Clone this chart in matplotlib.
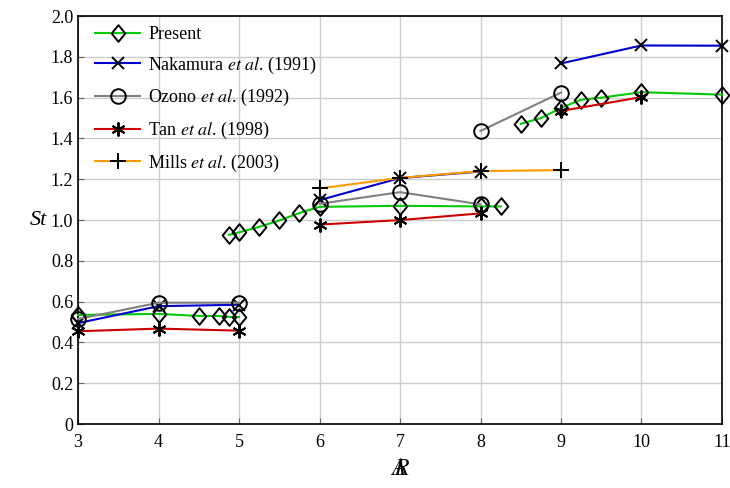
import numpy as np
import matplotlib
matplotlib.use('Agg')
import matplotlib.pyplot as plt
from matplotlib.path import Path

plt.rcParams['font.family'] = ['Liberation Serif', 'DejaVu Serif']
plt.rcParams['mathtext.fontset'] = 'stix'

# Present (three branches)
present_x = [[3, 4, 4.5, 4.75, 4.875, 5],
             [4.875, 5, 5.25, 5.5, 5.75, 6, 7, 8, 8.25],
             [8.5, 8.75, 9, 9.25, 9.5, 10, 11]]
present_y = [[0.535, 0.54, 0.53, 0.53, 0.525, 0.525],
             [0.928, 0.94, 0.967, 0.998, 1.035, 1.065, 1.07, 1.067, 1.067],
             [1.472, 1.50, 1.55, 1.59, 1.60, 1.627, 1.615]]

# Nakamura et al. (1991)
nak_x = [[3, 4, 5], [6, 7, 8], [9, 10, 11]]
nak_y = [[0.495, 0.578, 0.585], [1.098, 1.206, 1.238], [1.768, 1.856, 1.855]]

# Ozono et al. (1992)
ozo_x = [[3, 4, 5], [6, 7, 8], [8, 9]]
ozo_y = [[0.515, 0.595, 0.595], [1.08, 1.137, 1.077], [1.437, 1.625]]

# Tan et al. (1998)
tan_x = [[3, 4, 5], [6, 7, 8], [9, 10]]
tan_y = [[0.455, 0.468, 0.458], [0.978, 1.0, 1.033], [1.535, 1.603]]

# Mills et al. (2003)
mil_x = [[6, 7, 8, 9]]
mil_y = [[1.155, 1.207, 1.24, 1.245]]

# wider diamond than matplotlib's 'd'
diamond = Path([(0, 1), (0.82, 0), (0, -1), (-0.82, 0), (0, 1)],
               [Path.MOVETO, Path.LINETO, Path.LINETO, Path.LINETO, Path.CLOSEPOLY])

fig = plt.figure(figsize=(7.3, 4.88), dpi=100)
ax = fig.add_axes([0.107, 0.131, 0.882, 0.836])

series = [
    (present_x, present_y, '#00cc00', diamond, 12, 'Present'),
    (nak_x, nak_y, '#0000cc', 'x', 9, r'Nakamura $\it{et\ al}$. (1991)'),
    (ozo_x, ozo_y, '#808080', 'o', 10.5, r'Ozono $\it{et\ al}$. (1992)'),
    (tan_x, tan_y, '#cc0000', (6, 2, 0), 10, r'Tan $\it{et\ al}$. (1998)'),
    (mil_x, mil_y, '#ff9900', '+', 11, r'Mills $\it{et\ al}$. (2003)'),
]

for xs, ys, col, mk, ms, lab in series:
    for k in range(len(xs)):
        ax.plot(xs[k], ys[k], color=col, lw=1.5, marker=mk, ms=ms,
                mfc='none', mec='black', mew=1.4, clip_on=False,
                label=lab if k == 0 else None, zorder=3)

ax.set_xlim(3, 11)
ax.set_ylim(0, 2)
ax.set_xticks(range(3, 12))
ax.set_yticks(np.arange(0, 2.01, 0.2))
ax.set_yticklabels(['0'] + ['%.1f' % v for v in np.arange(0.2, 2.01, 0.2)])
ax.grid(True, color='#cccccc', lw=1.0)
ax.set_axisbelow(True)
ax.tick_params(direction='in', length=4, labelsize=13, color='#666666')
ax.tick_params(axis='x', pad=7)
for s in ax.spines.values():
    s.set_linewidth(1.2)

ax.set_xlabel(r'$\mathit{A}\!\!\!\!\mathit{R}$', fontsize=17, labelpad=6)
ax.set_ylabel('St', fontsize=16, style='italic', rotation=0, labelpad=2.5,
              va='center', ha='right')

leg = ax.legend(loc='upper left', bbox_to_anchor=(0.011, 1.0), frameon=False,
                fontsize=13, handlelength=2.5, handletextpad=0.45,
                borderaxespad=0.15, labelspacing=0.64)

fig.savefig('out.png', dpi=100)
